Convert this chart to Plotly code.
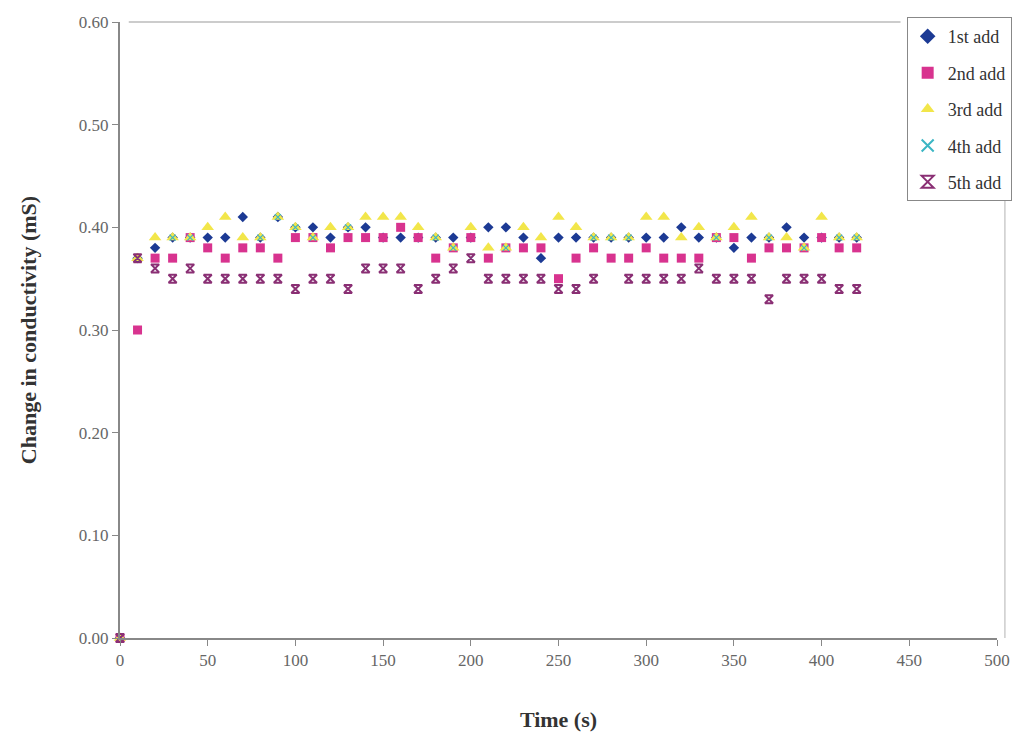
import plotly.graph_objects as go

time_s = [0, 10, 20, 30, 40, 50, 60, 70, 80, 90, 100, 110, 120, 130, 140, 150, 160, 170, 180, 190, 200,
          210, 220, 230, 240, 250, 260, 270, 280, 290, 300, 310, 320, 330, 340, 350, 360, 370, 380, 390, 400, 410, 420]

add1 = [0.00, 0.37, 0.38, 0.39, 0.39, 0.39, 0.39, 0.41, 0.39, 0.41, 0.40, 0.40, 0.39, 0.40, 0.40, 0.39, 0.39, 0.39,
        0.39, 0.39, 0.39, 0.40, 0.40, 0.39, 0.37, 0.39, 0.39, 0.39, 0.39, 0.39, 0.39, 0.39, 0.40, 0.39, 0.39, 0.38,
        0.39, 0.39, 0.40, 0.39, 0.39, 0.39, 0.39]
add2 = [0.00, 0.30, 0.37, 0.37, 0.39, 0.38, 0.37, 0.38, 0.38, 0.37, 0.39, 0.39, 0.38, 0.39, 0.39, 0.39, 0.40, 0.39,
        0.37, 0.38, 0.39, 0.37, 0.38, 0.38, 0.38, 0.35, 0.37, 0.38, 0.37, 0.37, 0.38, 0.37, 0.37, 0.37, 0.39, 0.39,
        0.37, 0.38, 0.38, 0.38, 0.39, 0.38, 0.38]
add3 = [0.00, 0.37, 0.39, 0.39, 0.39, 0.40, 0.41, 0.39, 0.39, 0.41, 0.40, 0.39, 0.40, 0.40, 0.41, 0.41, 0.41, 0.40,
        0.39, 0.38, 0.40, 0.38, 0.38, 0.40, 0.39, 0.41, 0.40, 0.39, 0.39, 0.39, 0.41, 0.41, 0.39, 0.40, 0.39, 0.40,
        0.41, 0.39, 0.39, 0.38, 0.41, 0.39, 0.39]
add4 = [0.00, 0.37, 0.36, 0.39, 0.39, 0.35, 0.35, 0.35, 0.39, 0.41, 0.40, 0.39, 0.35, 0.40, 0.36, 0.36, 0.36, 0.34,
        0.39, 0.38, 0.37, 0.35, 0.38, 0.35, 0.35, 0.34, 0.34, 0.39, 0.39, 0.39, 0.35, 0.35, 0.35, 0.36, 0.39, 0.35,
        0.35, 0.39, 0.35, 0.38, 0.35, 0.39, 0.39]
add5 = [0.00, 0.37, 0.36, 0.35, 0.36, 0.35, 0.35, 0.35, 0.35, 0.35, 0.34, 0.35, 0.35, 0.34, 0.36, 0.36, 0.36, 0.34,
        0.35, 0.36, 0.37, 0.35, 0.35, 0.35, 0.35, 0.34, 0.34, 0.35, None, 0.35, 0.35, 0.35, 0.35, 0.36, 0.35, 0.35,
        0.35, 0.33, 0.35, 0.35, 0.35, 0.34, 0.34]

series_names = ["1st add", "2nd add", "3rd add", "4th add", "5th add"]
x_ticks = [0, 50, 100, 150, 200, 250, 300, 350, 400, 450, 500]
y_ticks = [0.0, 0.1, 0.2, 0.3, 0.4, 0.5, 0.6]

styles = [
    dict(symbol="diamond", color="#1c3a94", size=8, line=dict(width=0)),
    dict(symbol="square", color="#d8338f", size=9, line=dict(width=0)),
    dict(symbol="triangle-up", color="#f2e64a", size=11, line=dict(width=0)),
    dict(symbol="x-thin-open", color="#3bb6c4", size=6, line=dict(width=1.2, color="#3bb6c4")),
    dict(symbol="hourglass-open", color="#8a2f74", size=8, line=dict(width=2, color="#8a2f74")),
]

fig = go.Figure()
for name, vals, st in zip(series_names, [add1, add2, add3, add4, add5], styles):
    fig.add_trace(go.Scatter(
        x=time_s, y=vals, mode="markers", name=name, marker=st,
        cliponaxis=False, legendgroup=name,
    ))

serif = "Liberation Serif"
fig.update_layout(
    width=1026, height=743,
    margin=dict(l=120, r=29, t=22, b=105),
    paper_bgcolor="white", plot_bgcolor="white",
    font=dict(family=serif, color="#333"),
    showlegend=True,
    legend=dict(
        x=0.897, y=1.008, xanchor="left", yanchor="top",
        font=dict(family=serif, size=18, color="#333"),
        bordercolor="#888", borderwidth=1, bgcolor="white",
        tracegroupgap=10, itemsizing="constant", itemwidth=30,
    ),
    xaxis=dict(
        range=[0, 500], tickvals=x_ticks, ticktext=[str(v) for v in x_ticks],
        showgrid=False, zeroline=False, showline=True, linecolor="#888", linewidth=2,
        ticks="outside", ticklen=6, tickcolor="#888",
        tickfont=dict(family=serif, size=17, color="#666"),
        title=dict(text="<b>Time (s)</b>", font=dict(family=serif, size=22, color="#333"), standoff=42),
    ),
    yaxis=dict(
        range=[0, 0.6], tickvals=y_ticks, ticktext=[f"{v:.2f}" for v in y_ticks],
        showgrid=False, zeroline=False, showline=True, linecolor="#888", linewidth=2,
        ticks="outside", ticklen=6, tickcolor="#888",
        tickfont=dict(family=serif, size=17, color="#666"),
        title=dict(text="<b>Change in conductivity (mS)</b>", font=dict(family=serif, size=22, color="#333"), standoff=36),
    ),
)

# faint plot-area frame (top and right)
fig.add_shape(type="line", xref="paper", yref="paper", x0=0.01, x1=0.89, y0=1, y1=1,
              line=dict(color="#bbb", width=1.5))
fig.add_shape(type="line", xref="paper", yref="paper", x0=1.009, x1=1.009, y0=0, y1=0.72,
              line=dict(color="#ccc", width=1.5))

fig.write_html("out.html")
